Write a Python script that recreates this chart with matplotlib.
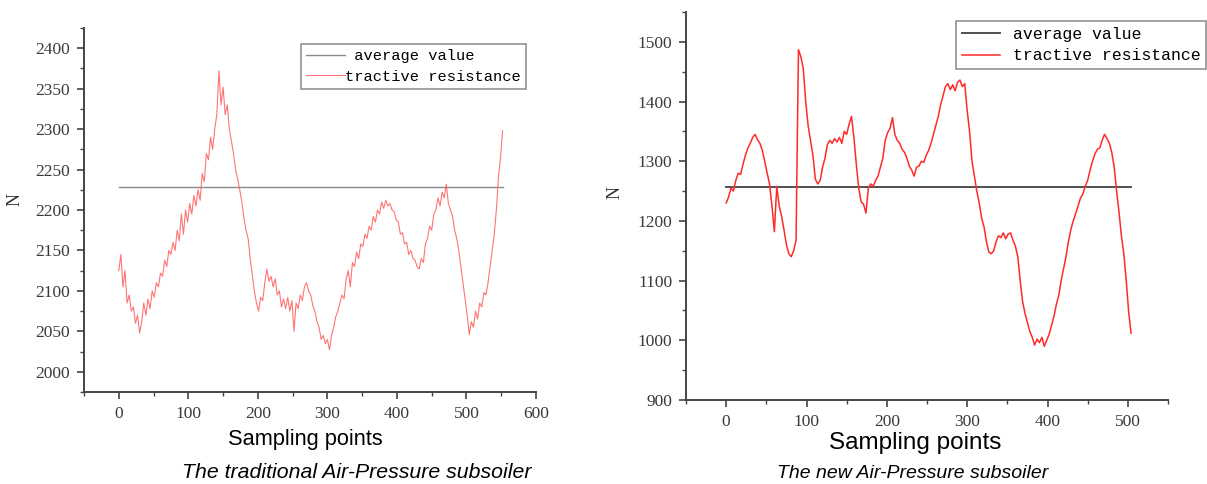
import matplotlib
matplotlib.use("Agg")
import matplotlib.pyplot as plt
from matplotlib.ticker import MultipleLocator

# ---------------- data ----------------
left_x_step = 3
left_values = [
    2125, 2145, 2105, 2125, 2085, 2095, 2075, 2080, 2060, 2070,
    2048, 2062, 2085, 2070, 2090, 2078, 2100, 2092, 2110, 2105,
    2122, 2118, 2138, 2130, 2150, 2145, 2160, 2150, 2175, 2162,
    2195, 2170, 2200, 2185, 2208, 2195, 2218, 2205, 2225, 2212,
    2245, 2235, 2270, 2262, 2290, 2275, 2300, 2318, 2372, 2330,
    2352, 2318, 2330, 2300, 2285, 2270, 2250, 2238, 2225, 2210,
    2190, 2175, 2165, 2140, 2120, 2100, 2085, 2075, 2092, 2088,
    2110, 2127, 2112, 2118, 2105, 2115, 2095, 2100, 2080, 2090,
    2078, 2092, 2075, 2088, 2050, 2085, 2078, 2095, 2088, 2105,
    2110, 2100, 2095, 2082, 2075, 2062, 2055, 2040, 2045, 2035,
    2040, 2027, 2045, 2055, 2068, 2075, 2085, 2095, 2090, 2115,
    2125, 2105, 2135, 2130, 2148, 2140, 2158, 2155, 2170, 2165,
    2180, 2175, 2192, 2185, 2200, 2195, 2210, 2202, 2212, 2205,
    2208, 2200, 2198, 2188, 2185, 2170, 2172, 2158, 2160, 2145,
    2150, 2140, 2138, 2130, 2127, 2140, 2135, 2158, 2165, 2180,
    2175, 2195, 2200, 2215, 2205, 2222, 2215, 2232, 2208, 2200,
    2192, 2175, 2165, 2150, 2130, 2110, 2090, 2070, 2046, 2062,
    2055, 2075, 2065, 2085, 2080, 2098, 2095, 2110, 2130, 2150,
    2170, 2200, 2240, 2265, 2298,
]
left_x = [i * left_x_step for i in range(len(left_values))]
left_average = 2229

right_x_step = 3
right_values = [
    1230, 1240, 1255, 1250, 1268, 1280, 1278, 1295, 1310, 1322,
    1330, 1340, 1345, 1336, 1330, 1318, 1300, 1280, 1262, 1225,
    1182, 1258, 1225, 1208, 1185, 1160, 1145, 1140, 1150, 1168,
    1487, 1475, 1455, 1400, 1360, 1335, 1310, 1270, 1262, 1268,
    1290, 1305, 1328, 1335, 1330, 1338, 1332, 1340, 1330, 1350,
    1345, 1362, 1375, 1340, 1295, 1255, 1232, 1228, 1213, 1255,
    1262, 1258, 1268, 1275, 1290, 1305, 1335, 1348, 1355, 1373,
    1345, 1335, 1330, 1320, 1315, 1305, 1292, 1285, 1275, 1290,
    1292, 1300, 1298, 1310, 1318, 1330, 1345, 1360, 1375, 1395,
    1410, 1425, 1430, 1420, 1428, 1418, 1432, 1436, 1425, 1430,
    1385, 1350, 1300, 1275, 1250, 1230, 1205, 1190, 1165, 1148,
    1145, 1150, 1165, 1175, 1172, 1180, 1170, 1178, 1180, 1168,
    1158, 1140, 1100, 1065, 1045, 1030, 1015, 1005, 992, 1002,
    996, 1005, 990, 1000, 1010, 1025, 1040, 1060, 1075, 1100,
    1120, 1140, 1165, 1185, 1200, 1212, 1225, 1238, 1245, 1258,
    1268, 1285, 1300, 1312, 1320, 1322, 1335, 1345, 1338, 1330,
    1315, 1290, 1250, 1215, 1175, 1145, 1100, 1048, 1012,
]
right_x = [i * right_x_step for i in range(len(right_values))]
right_average = 1257

legend_labels = ["average value", "tractive resistance"]
xlabel = "Sampling points"
ylabel = "N"
captions = ["The traditional Air-Pressure subsoiler", "The new Air-Pressure subsoiler"]

# ---------------- figure ----------------
W, H = 1207, 484
fig = plt.figure(figsize=(W / 100, H / 100), dpi=100)

def px_axes(x0, y0, x1, y1):
    return fig.add_axes([x0 / W, 1 - y1 / H, (x1 - x0) / W, (y1 - y0) / H])

tick_font = dict(family="Liberation Serif", size=12.5)
spine_col = "#444444"

def style(ax):
    for s in ["top", "right"]:
        ax.spines[s].set_visible(False)
    for s in ["left", "bottom"]:
        ax.spines[s].set_color(spine_col)
        ax.spines[s].set_linewidth(1.4)
    ax.tick_params(which="major", direction="out", length=5, width=1.2,
                   colors=spine_col, labelcolor="#3a3a3a", pad=5)
    ax.tick_params(which="minor", direction="out", length=3, width=1.0,
                   colors=spine_col)
    for lab in ax.get_xticklabels() + ax.get_yticklabels():
        lab.set_fontfamily(tick_font["family"])
        lab.set_fontsize(tick_font["size"])

# Left chart
ax1 = px_axes(84, 28, 536, 392)
ax1.plot([left_x[0], left_x[-1]], [left_average, left_average], color="#8a8a8a", lw=1.0,
         label=" " + legend_labels[0])
ax1.plot(left_x, left_values, color="#ff5c5c", lw=0.8, alpha=0.85, label=legend_labels[1])
ax1.set_xlim(-50, 600)
ax1.set_ylim(1975, 2425)
ax1.xaxis.set_major_locator(MultipleLocator(100))
ax1.xaxis.set_minor_locator(MultipleLocator(50))
ax1.yaxis.set_major_locator(MultipleLocator(50))
ax1.yaxis.set_minor_locator(MultipleLocator(25))
style(ax1)
leg1 = ax1.legend(loc="upper left", bbox_to_anchor=(301 / W, 1 - 44 / H),
                  bbox_transform=fig.transFigure, frameon=True, fancybox=False,
                  prop=dict(family="Liberation Mono", size=11.1), handlelength=2.5,
                  handletextpad=0.0, borderpad=0.35, labelspacing=0.4, borderaxespad=0)
leg1.get_frame().set_edgecolor("#777777")
leg1.get_frame().set_linewidth(1.2)

# Right chart
ax2 = px_axes(686, 12, 1168, 400)
ax2.plot([right_x[0], right_x[-1]], [right_average, right_average], color="#505050", lw=1.4,
         label=legend_labels[0])
ax2.plot(right_x, right_values, color="#ff2a2a", lw=1.1, label=legend_labels[1])
ax2.set_xlim(-50, 550)
ax2.set_ylim(900, 1550)
ax2.xaxis.set_major_locator(MultipleLocator(100))
ax2.xaxis.set_minor_locator(MultipleLocator(50))
ax2.yaxis.set_major_locator(MultipleLocator(100))
ax2.yaxis.set_minor_locator(MultipleLocator(50))
style(ax2)
leg2 = ax2.legend(loc="upper left", bbox_to_anchor=(956 / W, 1 - 21 / H),
                  bbox_transform=fig.transFigure, frameon=True, fancybox=False,
                  prop=dict(family="Liberation Mono", size=11.9), handlelength=2.3,
                  handletextpad=0.8, borderpad=0.35, labelspacing=0.4, borderaxespad=0)
leg2.get_frame().set_edgecolor("#777777")
leg2.get_frame().set_linewidth(1.2)

# Axis labels and captions
fig.text(15 / W, 1 - 200 / H, ylabel, rotation=90, ha="center", va="center",
         family="Liberation Serif", size=13, color="#333333")
fig.text(615 / W, 1 - 193 / H, ylabel, rotation=90, ha="center", va="center",
         family="Liberation Serif", size=13, color="#333333")
fig.text(305 / W, 1 - 440 / H, xlabel, ha="center", va="center",
         family="Liberation Sans", size=15.7, color="black")
fig.text(915 / W, 1 - 443 / H, xlabel, ha="center", va="center",
         family="Liberation Sans", size=17.5, color="black")
fig.text(357 / W, 1 - 473 / H, captions[0], ha="center", va="center",
         family="Liberation Sans", style="italic", size=15.3, color="black")
fig.text(913 / W, 1 - 473 / H, captions[1], ha="center", va="center",
         family="Liberation Sans", style="italic", size=14, color="black")

fig.savefig("out.png", dpi=100, facecolor="white")
